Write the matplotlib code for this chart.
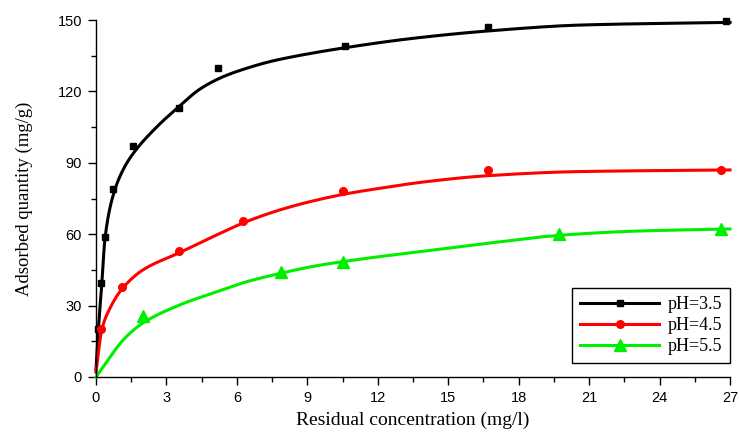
import numpy as np
import matplotlib
matplotlib.use("Agg")
import matplotlib.pyplot as plt
from matplotlib.ticker import MultipleLocator, AutoMinorLocator

# ---- measured data points ----
x35 = [0.08, 0.2, 0.38, 0.72, 1.57, 3.53, 5.2, 10.6, 16.7, 26.85]
y35 = [20, 39.5, 59, 79, 97, 113, 130, 139, 147, 149.5]

x45 = [0.2, 1.1, 3.53, 6.26, 10.5, 16.7, 26.6]
y45 = [20, 38, 53, 65.5, 78, 87, 87]

x55 = [2.0, 7.87, 10.5, 19.7, 26.6]
y55 = [25.6, 44, 48.3, 60, 62]

# ---- fitted curves (knots) ----
cx35 = [0, 0.1, 0.25, 0.38, 0.75, 1.15, 1.59, 2.58, 3.5, 4.43, 5.42, 6.41, 7.4, 8.5, 10.7, 13.5, 16.7, 20.7, 27]
cy35 = [3, 20, 39.5, 58, 77, 87, 94, 105, 113.3, 121, 126.2, 129.7, 132.5, 134.8, 138.5, 142.3, 145.4, 147.9, 149]

cx45 = [0, 0.25, 0.6, 1.15, 2.0, 3.57, 4.99, 6.41, 7.83, 9.25, 10.67, 12.09, 14.0, 16.7, 20.5, 27]
cy45 = [2, 20, 29, 37.5, 45, 52.3, 59, 65.3, 70.2, 74, 77, 79.3, 82.0, 84.6, 86.3, 87]

cx55 = [0, 0.6, 1.15, 2.0, 3.57, 4.99, 6.41, 7.83, 9.25, 10.67, 12.09, 14.5, 16.77, 19.7, 23, 27]
cy55 = [0, 8.4, 15.5, 22.7, 30.3, 35.3, 40, 43.5, 46.5, 48.7, 50.6, 53.5, 56.3, 59.5, 61.3, 62.2]

labels = ["pH=3.5", "pH=4.5", "pH=5.5"]
colors = ["#000000", "#ff0000", "#00ee00"]
markers = ["s", "o", "^"]


def pchip(xk, yk, xs):
    xk = np.asarray(xk, float); yk = np.asarray(yk, float)
    h = np.diff(xk); d = np.diff(yk) / h
    n = len(xk)
    m = np.zeros(n)
    for i in range(1, n - 1):
        if d[i - 1] * d[i] > 0:
            w1 = 2 * h[i] + h[i - 1]; w2 = h[i] + 2 * h[i - 1]
            m[i] = (w1 + w2) / (w1 / d[i - 1] + w2 / d[i])
    m[0] = d[0]; m[-1] = d[-1]
    idx = np.clip(np.searchsorted(xk, xs) - 1, 0, n - 2)
    t = (xs - xk[idx]) / h[idx]
    h00 = 2 * t**3 - 3 * t**2 + 1; h10 = t**3 - 2 * t**2 + t
    h01 = -2 * t**3 + 3 * t**2; h11 = t**3 - t**2
    return h00 * yk[idx] + h10 * h[idx] * m[idx] + h01 * yk[idx + 1] + h11 * h[idx] * m[idx + 1]


fig = plt.figure(figsize=(7.39, 4.32), dpi=100)
ax = fig.add_axes([96 / 739, 1 - 377 / 432, (730 - 96) / 739, (377 - 20) / 432])

series = [(x35, y35, cx35, cy35), (x45, y45, cx45, cy45), (x55, y55, cx55, cy55)]
msz = [5, 5.5, 8]
handles = []
for (xd, yd, cx, cy), lab, c, mk, ms in zip(series, labels, colors, markers, msz):
    xs = np.linspace(cx[0], cx[-1], 800)
    ax.plot(xs, pchip(cx, cy, xs), color=c, lw=2.2, zorder=2, clip_on=False)
    ax.plot(xd, yd, ls='none', marker=mk, color=c, ms=ms, zorder=3, clip_on=False)
    h, = ax.plot([], [], color=c, lw=2.2, marker=mk, ms=ms, label=lab)
    handles.append(h)

ax.set_xlim(0, 27)
ax.set_ylim(0, 150)
ax.xaxis.set_major_locator(MultipleLocator(3))
ax.xaxis.set_minor_locator(AutoMinorLocator(2))
ax.yaxis.set_major_locator(MultipleLocator(30))
ax.yaxis.set_minor_locator(AutoMinorLocator(2))
for s in ["top", "right"]:
    ax.spines[s].set_visible(False)
for s in ["left", "bottom"]:
    ax.spines[s].set_linewidth(1.0)
ax.tick_params(which='major', direction='out', length=6, width=1, labelsize=10.5, pad=4)
ax.tick_params(which='minor', direction='out', length=3.5, width=1)
for t in ax.get_xticklabels() + ax.get_yticklabels():
    t.set_fontfamily('Liberation Sans')

ax.set_xlabel("Residual concentration (mg/l)", fontfamily='Liberation Serif', fontsize=14, labelpad=5)
ax.set_ylabel("Adsorbed quantity (mg/g)", fontfamily='Liberation Serif', fontsize=13.5, labelpad=18)

leg = ax.legend(handles=handles, loc='lower right', bbox_to_anchor=(1.0, 14 / 357),
                borderaxespad=0, fancybox=False, edgecolor='black', framealpha=1,
                prop={'family': 'Liberation Serif', 'size': 13}, handlelength=4.4,
                handletextpad=0.45, labelspacing=0.22, borderpad=0.45)
leg.get_frame().set_linewidth(1.0)

fig.savefig("out.png", dpi=100)
